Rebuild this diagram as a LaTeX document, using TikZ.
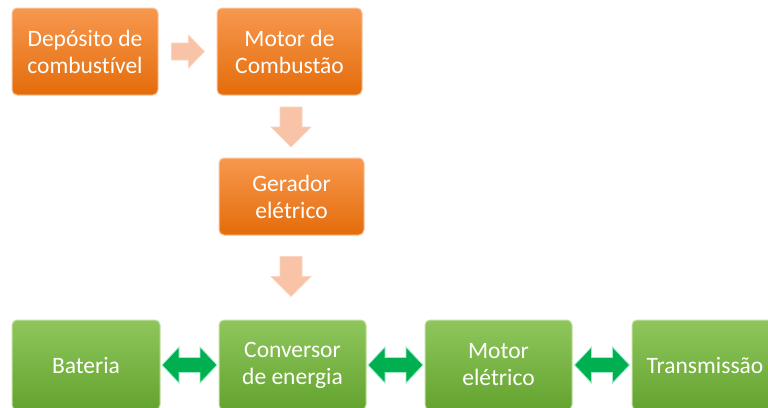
\documentclass[tikz,border=0pt]{standalone}
\usepackage{fontspec}
\setmainfont{Carlito}[Ligatures=NoCommon]
\definecolor{otop}{HTML}{F7984F}
\definecolor{obot}{HTML}{E46C0A}
\definecolor{oedge}{HTML}{FAC49C}
\definecolor{gtop}{HTML}{8FC65C}
\definecolor{gbot}{HTML}{63A32F}
\definecolor{gedge}{HTML}{BFE0A0}
\definecolor{parrow}{HTML}{F8C3A6}
\definecolor{garrow}{HTML}{00B050}
\definecolor{gaedge}{HTML}{9BEBC8}
\tikzset{
  box/.style={rectangle, rounded corners=5pt, draw, line width=1pt, text=white,
    align=center, font=\fontsize{23.5}{27}\selectfont, inner sep=0pt},
  obox/.style={box, top color=otop, bottom color=obot, draw=oedge},
  gbox/.style={box, top color=gtop, bottom color=gbot, draw=gedge},
  parr/.style={fill=parrow, draw=parrow!70!white, line width=0.6pt},
  garr/.style={fill=garrow, draw=gaedge, line width=0.8pt, line join=miter},
}
\begin{document}
\begin{tikzpicture}[x=1pt,y=-1pt]
\useasboundingbox (0,0) rectangle (768,407);
\clip (0,0) rectangle (768,407);
% boxes
\node[obox, minimum width=146pt, minimum height=87pt] (dep) at (85,51.5) {Depósito de\\combustível};
\node[obox, minimum width=145pt, minimum height=87pt] (mc) at (289.5,51.5) {Motor de\\Combustão};
\node[obox, minimum width=145pt, minimum height=77pt] (ger) at (291.5,196.5) {Gerador\\elétrico};
\node[gbox, minimum width=148pt, minimum height=90pt] (bat) at (86,365) {Bateria};
\node[gbox, minimum width=147pt, minimum height=90pt] (conv) at (292.5,365) {Conversor\\de energia};
\node[gbox, minimum width=147pt, minimum height=90pt] (mel) at (498.5,365) {Motor\\elétrico};
\node[gbox, minimum width=146pt, minimum height=90pt] (tra) at (705,365) {Transmissão};
% arrow anchors
\path (dep.east) -- (mc.west) coordinate[midway] (a1);
\coordinate (a2) at (291,127);
\coordinate (a3) at (291,276.5);
\path (bat.east) -- (conv.west) coordinate[midway] (g1);
\path (conv.east) -- (mel.west) coordinate[midway] (g2);
\path (mel.east) -- (tra.west) coordinate[midway] (g3);
% orange (light) arrows
\draw[parr, shift={(a1)}] (-16,-8.5) -- (1,-8.5) -- (1,-16.5) -- (17,0) -- (1,16.5) -- (1,8.5) -- (-16,8.5) -- cycle;
\foreach \c in {a2,a3} {
  \draw[parr, shift={(\c)}] (-11,-20) -- (11,-20) -- (11,0) -- (20,0) -- (0,20) -- (-20,0) -- (-11,0) -- cycle;
}
% green double arrows
\foreach \c in {g1,g2,g3} {
  \draw[garr, shift={(\c)}] (-27.5,0) -- (-10.5,-18) -- (-10.5,-7.5) -- (10.5,-7.5) -- (10.5,-18) -- (27.5,0)
     -- (10.5,18) -- (10.5,7.5) -- (-10.5,7.5) -- (-10.5,18) -- cycle;
}
\end{tikzpicture}
\end{document}
